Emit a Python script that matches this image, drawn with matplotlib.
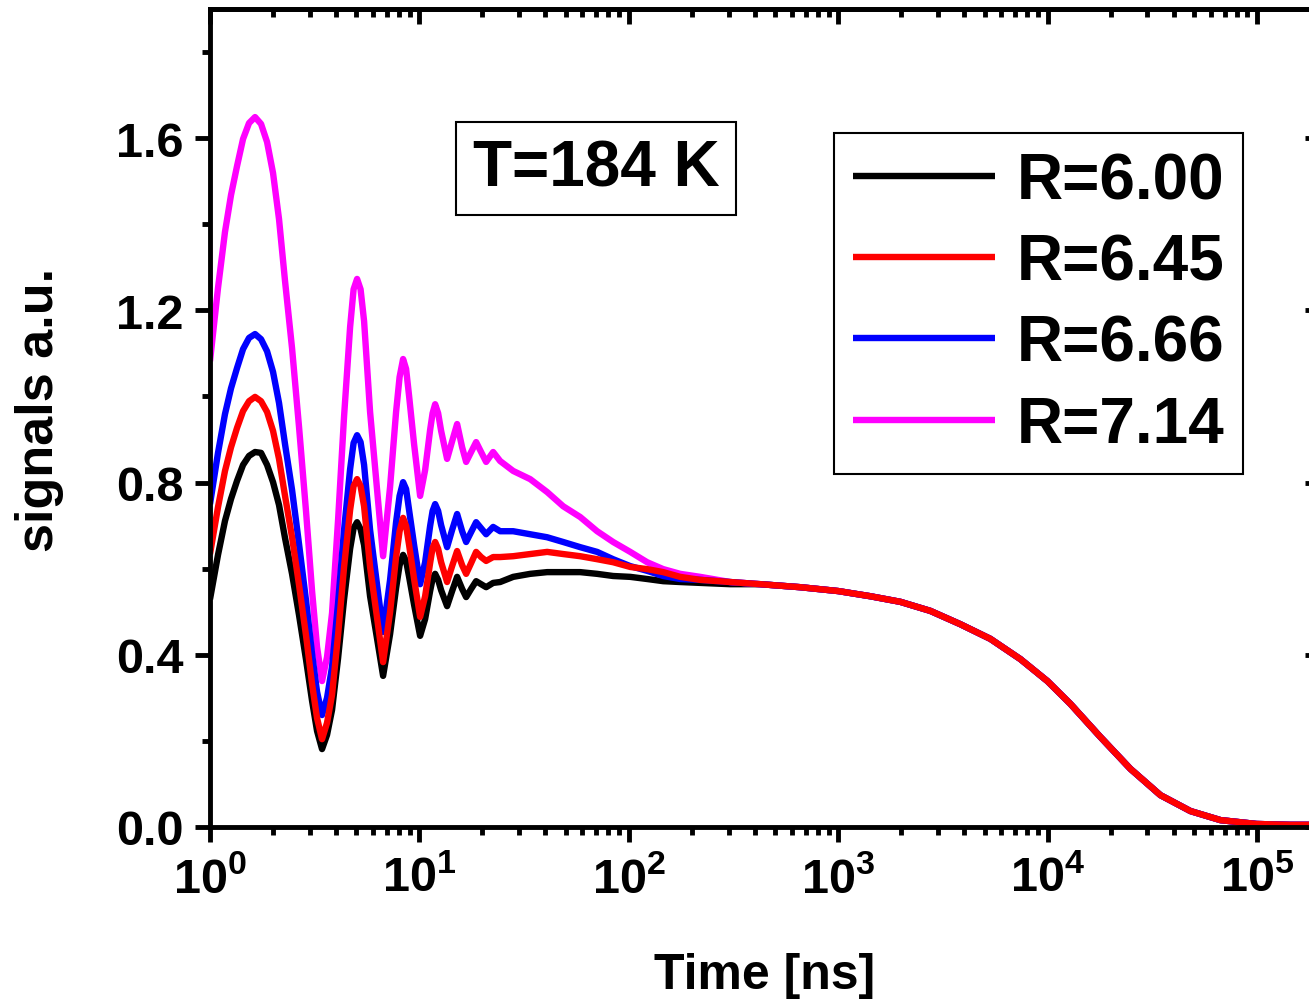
import matplotlib
matplotlib.use("Agg")
import matplotlib.pyplot as plt
import numpy as np
from matplotlib.ticker import LogLocator, MultipleLocator, FixedLocator, NullFormatter, FuncFormatter

plt.rcParams['font.family'] = ['Liberation Sans', 'DejaVu Sans']
plt.rcParams['font.weight'] = 'bold'
plt.rcParams['mathtext.fontset'] = 'custom'
plt.rcParams['mathtext.rm'] = 'Liberation Sans:bold'
plt.rcParams['mathtext.bf'] = 'Liberation Sans:bold'
plt.rcParams['mathtext.it'] = 'Liberation Sans:bold'

# ---- data ----
t_osc = [1.000, 1.092, 1.179, 1.260, 1.346, 1.438, 1.536, 1.641, 1.753, 1.873,
         2.000, 2.136, 2.282, 2.465, 2.662, 2.876, 3.072, 3.245, 3.428, 3.622,
         3.827, 4.089, 4.368, 4.667, 4.850, 5.040, 5.237, 5.443, 5.814, 6.280,
         6.709, 7.244, 7.738, 8.042, 8.358, 8.640, 8.929, 9.434, 10.08, 10.65,
         11.25, 11.56, 11.89, 12.29, 12.70, 13.56, 14.33, 15.14, 16.00, 16.72,
         17.66, 18.66, 19.71, 20.83, 22.50, 24.30, 28.05, 33.81, 40.75, 48.6,
         58.6, 70.6, 84.2, 101.6, 122.4, 146.0, 176.0, 219.3, 305.0]

y_600 = [0.529, 0.632, 0.711, 0.762, 0.804, 0.841, 0.862, 0.871, 0.869, 0.841,
         0.801, 0.748, 0.671, 0.588, 0.492, 0.388, 0.293, 0.223, 0.181, 0.214,
         0.272, 0.392, 0.529, 0.646, 0.694, 0.708, 0.692, 0.655, 0.536, 0.437,
         0.351, 0.448, 0.555, 0.608, 0.632, 0.618, 0.581, 0.516, 0.444, 0.483,
         0.548, 0.576, 0.588, 0.574, 0.550, 0.513, 0.548, 0.581, 0.553, 0.534,
         0.553, 0.571, 0.564, 0.557, 0.567, 0.569, 0.581, 0.588, 0.592, 0.592,
         0.592, 0.588, 0.583, 0.581, 0.576, 0.571, 0.569, 0.567, 0.564]

y_645 = [0.634, 0.743, 0.827, 0.882, 0.927, 0.966, 0.989, 0.999, 0.989, 0.964,
         0.920, 0.855, 0.769, 0.673, 0.562, 0.444, 0.332, 0.253, 0.204, 0.242,
         0.307, 0.446, 0.604, 0.736, 0.792, 0.808, 0.792, 0.745, 0.604, 0.485,
         0.383, 0.499, 0.627, 0.687, 0.718, 0.699, 0.655, 0.576, 0.488, 0.536,
         0.613, 0.648, 0.662, 0.646, 0.615, 0.569, 0.606, 0.641, 0.608, 0.588,
         0.613, 0.639, 0.627, 0.618, 0.627, 0.627, 0.629, 0.634, 0.639, 0.634,
         0.629, 0.622, 0.615, 0.604, 0.599, 0.592, 0.581, 0.574, 0.569]

y_666 = [0.750, 0.869, 0.959, 1.019, 1.066, 1.110, 1.136, 1.145, 1.133, 1.105,
         1.057, 0.985, 0.889, 0.783, 0.657, 0.525, 0.402, 0.314, 0.260, 0.300,
         0.372, 0.520, 0.690, 0.831, 0.892, 0.910, 0.894, 0.841, 0.690, 0.562,
         0.453, 0.574, 0.708, 0.769, 0.801, 0.785, 0.736, 0.655, 0.564, 0.615,
         0.699, 0.734, 0.750, 0.734, 0.701, 0.650, 0.690, 0.727, 0.687, 0.662,
         0.685, 0.708, 0.694, 0.680, 0.697, 0.687, 0.687, 0.680, 0.673, 0.662,
         0.650, 0.639, 0.622, 0.606, 0.595, 0.583, 0.576, 0.574, 0.569]

y_714 = [1.082, 1.252, 1.382, 1.468, 1.535, 1.598, 1.635, 1.649, 1.633, 1.591,
         1.519, 1.412, 1.268, 1.112, 0.929, 0.732, 0.548, 0.418, 0.339, 0.395,
         0.497, 0.713, 0.954, 1.161, 1.249, 1.273, 1.249, 1.175, 0.964, 0.783,
         0.629, 0.790, 0.964, 1.045, 1.087, 1.064, 1.001, 0.889, 0.769, 0.829,
         0.922, 0.961, 0.982, 0.961, 0.920, 0.855, 0.896, 0.936, 0.882, 0.848,
         0.871, 0.894, 0.871, 0.848, 0.871, 0.850, 0.827, 0.808, 0.778, 0.745,
         0.720, 0.687, 0.662, 0.639, 0.615, 0.599, 0.588, 0.581, 0.569]

t_tail = [424.5, 659, 1001, 1424, 1981, 2754, 3832, 5330, 7413, 9977,
          12850, 17880, 24870, 34580, 48120, 66930, 99450, 144500, 201100]
y_tail = [0.564, 0.557, 0.548, 0.536, 0.523, 0.502, 0.471, 0.437, 0.390, 0.339,
          0.286, 0.209, 0.135, 0.074, 0.037, 0.016, 0.007, 0.005, 0.005]

labels = ['R=6.00', 'R=6.45', 'R=6.66', 'R=7.14']
colors = ['black', '#ff0000', '#0000ff', '#ff00ff']
series = [y_600, y_645, y_666, y_714]

# ---- figure ----
fig = plt.figure(figsize=(13.09, 10.03), dpi=100)
ax = fig.add_axes([0.16043, 0.17448, 0.84798, 0.81555])

t_all = np.array(t_osc + t_tail)
lines = {}
for lab, col, ys in zip(labels, colors, series):
    y_all = np.array(ys + y_tail)
    lines[lab] = (t_all, y_all, col)

draw_order = ['R=6.00', 'R=7.14', 'R=6.66', 'R=6.45']
handles = {}
for lab in draw_order:
    t, y, col = lines[lab]
    h, = ax.plot(t, y, color=col, lw=4.6, solid_joinstyle='round',
                 solid_capstyle='butt', label=lab)
    handles[lab] = h

ax.set_xscale('log')
ax.set_xlim(1, 2.0e5)
ax.set_ylim(0, 1.9)

for sp in ax.spines.values():
    sp.set_linewidth(3.5)

ax.yaxis.set_major_locator(FixedLocator([0.0, 0.4, 0.8, 1.2, 1.6]))
ax.yaxis.set_minor_locator(MultipleLocator(0.2))
ax.yaxis.set_major_formatter(FuncFormatter(lambda v, p: f"{v:.1f}"))
ax.xaxis.set_major_locator(LogLocator(base=10, numticks=20))
ax.xaxis.set_minor_locator(LogLocator(base=10, subs=np.arange(2, 10), numticks=20))
ax.xaxis.set_minor_formatter(NullFormatter())
ax.xaxis.set_major_formatter(FuncFormatter(lambda v, p: r"$\mathbf{10^{%d}}$" % int(round(np.log10(v)))))

ax.tick_params(axis='both', which='major', direction='out', length=11, width=3.5,
               labelsize=35, pad=8)
ax.tick_params(axis='both', which='minor', direction='out', length=6, width=3.5)
ax.tick_params(axis='x', which='major', pad=10)

axt = ax.secondary_xaxis('top')
axt.xaxis.set_major_locator(LogLocator(base=10, numticks=20))
axt.xaxis.set_minor_locator(LogLocator(base=10, subs=np.arange(2, 10), numticks=20))
axt.tick_params(which='major', direction='in', length=11, width=3.5, labeltop=False)
axt.tick_params(which='minor', direction='in', length=6, width=3.5)
axt.xaxis.set_major_formatter(NullFormatter())
axt.xaxis.set_minor_formatter(NullFormatter())
axt.spines['top'].set_linewidth(3.5)

axr = ax.secondary_yaxis('right')
axr.yaxis.set_major_locator(FixedLocator([0.0, 0.4, 0.8, 1.2, 1.6]))
axr.yaxis.set_minor_locator(MultipleLocator(0.2))
axr.tick_params(which='major', direction='in', length=11, width=3.5, labelright=False)
axr.tick_params(which='minor', direction='in', length=6, width=3.5)
axr.yaxis.set_major_formatter(NullFormatter())
axr.spines['right'].set_linewidth(3.5)

for lab in ax.get_xticklabels() + ax.get_yticklabels():
    lab.set_fontweight('bold')

ax.set_xlabel('Time [ns]', fontsize=36, fontweight='bold', labelpad=36)
ax.set_ylabel('signals a.u.', fontsize=37.5, fontweight='bold')
ax.yaxis.set_label_coords(-0.1315, 0.511)

leg = ax.legend([handles[l] for l in labels], labels, loc='upper left',
                bbox_to_anchor=(0.562, 0.849), fontsize=46, frameon=True,
                fancybox=False, edgecolor='black', framealpha=1,
                handlelength=2.22, handletextpad=0.34, labelspacing=0.33,
                borderpad=0.3, borderaxespad=0)
leg.get_frame().set_linewidth(1.5)
for txt in leg.get_texts():
    txt.set_fontweight('bold')

ax.text(0.2365, 0.805, 'T=184 K', transform=ax.transAxes, fontsize=46,
        fontweight='bold', ha='left', va='center',
        bbox=dict(boxstyle='square,pad=0.26', facecolor='white', edgecolor='black', linewidth=1.5))

fig.savefig('out.png', dpi=100)
